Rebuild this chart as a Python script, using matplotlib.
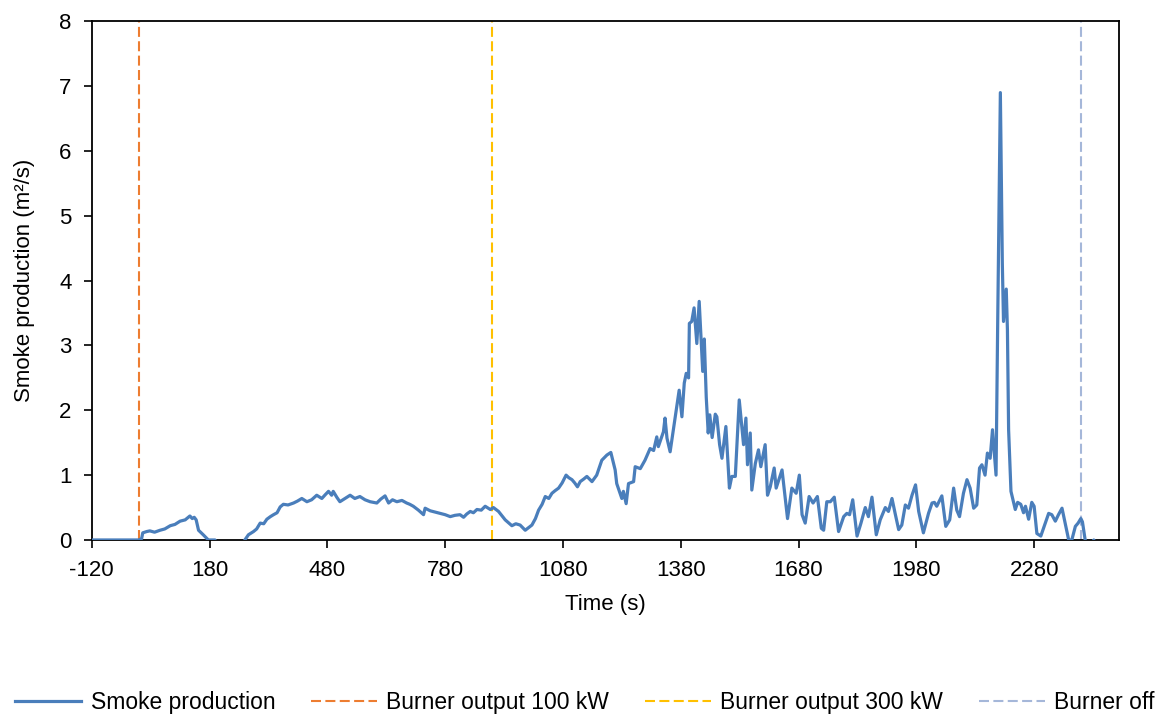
import numpy as np
import matplotlib
matplotlib.use("Agg")
import matplotlib.pyplot as plt

plt.rcParams['font.family'] = ['Liberation Sans', 'DejaVu Sans']
plt.rcParams['axes.unicode_minus'] = False

# smoke production trace (time s, m2/s)
time = [-120, 0, 7, 10, 20, 28, 40, 54, 66, 80, 92, 105, 118, 130, 136, 141, 146, 152, 164, 177, 194, 200,
        265, 270, 279, 292, 300, 309, 318, 326, 335, 343, 352, 360, 368, 380, 394, 404, 415, 428, 440, 453, 466, 475, 483,
        491, 495, 504, 512, 525, 538, 550, 563, 576, 589, 606, 616, 627, 636, 646, 657, 670, 682, 690, 699, 712, 725, 729, 742,
        755, 767, 780, 793, 805, 818, 827, 835, 844, 852, 861, 872, 882, 895, 903, 916, 933, 950, 960, 971, 984, 1001,
        1010, 1018, 1027, 1035, 1044, 1052, 1060, 1069, 1078, 1088, 1095, 1103, 1110, 1117, 1124, 1133, 1141, 1154, 1166, 1179, 1192,
        1202, 1213, 1217, 1230, 1234, 1241, 1247, 1260, 1264, 1277, 1289, 1302, 1311,
        1319, 1323, 1336, 1340, 1345, 1353, 1366, 1376, 1383, 1389, 1394, 1400, 1402,
        1408, 1414, 1421, 1427, 1436, 1440, 1445, 1450, 1454, 1460, 1468, 1472, 1479,
        1485, 1495, 1504, 1510, 1519, 1529, 1540, 1546, 1550, 1557, 1561, 1570, 1578,
        1584, 1595, 1601, 1608, 1618, 1623, 1629, 1638, 1652, 1663, 1674, 1682, 1689,
        1697, 1707, 1717, 1728, 1738, 1744, 1752, 1761, 1771, 1782, 1795, 1803, 1810,
        1818, 1829, 1839, 1850, 1858, 1867, 1878, 1888, 1901, 1909, 1918, 1926, 1935,
        1943, 1952, 1960, 1969, 1978, 1986, 1998, 2011, 2020, 2026, 2032, 2045, 2055,
        2065, 2075, 2083, 2090, 2100, 2109, 2117, 2126, 2134, 2141, 2147, 2155, 2161,
        2168, 2174, 2183, 2187, 2194, 2199, 2202, 2209, 2212, 2215, 2221, 2228, 2232,
        2238, 2246, 2253, 2258, 2266, 2274, 2280, 2287, 2297, 2308, 2317, 2325, 2334,
        2342, 2351, 2359, 2368, 2376, 2385, 2392, 2399, 2403, 2410, 2420, 2432, 2436,
        2440]
smoke = [0, 0, 0.02, 0.11, 0.13, 0.14, 0.12, 0.15, 0.17, 0.22, 0.24, 0.29, 0.31, 0.37, 0.33, 0.35, 0.31, 0.15, 0.08, 0.0, 0.0, -0.1,
         -0.1, 0.0, 0.08, 0.13, 0.17, 0.26, 0.25, 0.32, 0.36, 0.39, 0.42, 0.51, 0.55, 0.54, 0.57, 0.60, 0.64, 0.59, 0.62, 0.69, 0.64, 0.70, 0.75,
         0.69, 0.75, 0.66, 0.59, 0.64, 0.69, 0.64, 0.67, 0.62, 0.59, 0.57, 0.63, 0.68, 0.57, 0.62, 0.59, 0.61, 0.57, 0.55, 0.52, 0.46, 0.39, 0.49, 0.45,
         0.43, 0.41, 0.39, 0.36, 0.38, 0.39, 0.35, 0.40, 0.44, 0.42, 0.47, 0.46, 0.52, 0.47, 0.50, 0.44, 0.31, 0.22, 0.25, 0.23, 0.15, 0.23,
         0.33, 0.46, 0.55, 0.67, 0.64, 0.72, 0.76, 0.80, 0.88, 1.00, 0.96, 0.93, 0.88, 0.82, 0.90, 0.94, 0.98, 0.90, 1.00, 1.23, 1.31,
         1.35, 1.08, 0.87, 0.64, 0.75, 0.56, 0.87, 0.90, 1.13, 1.10, 1.23, 1.41, 1.38,
         1.59, 1.44, 1.67, 1.88, 1.57, 1.36, 1.90, 2.31, 1.90, 2.42, 2.57, 2.50, 3.34,
         3.37, 3.58, 3.03, 3.68, 2.60, 3.10, 2.20, 1.65, 1.93, 1.58, 1.94, 1.90, 1.47,
         1.26, 1.75, 0.80, 0.98, 0.98, 2.16, 1.47, 1.88, 1.16, 1.65, 0.77, 1.18, 1.39,
         1.13, 1.47, 0.69, 0.82, 1.11, 0.80, 0.91, 1.08, 0.33, 0.80, 0.72, 1.00, 0.39,
         0.26, 0.67, 0.57, 0.67, 0.18, 0.15, 0.59, 0.59, 0.66, 0.13, 0.36, 0.41, 0.39,
         0.62, 0.06, 0.26, 0.50, 0.36, 0.66, 0.08, 0.31, 0.50, 0.44, 0.64, 0.41, 0.16,
         0.23, 0.54, 0.49, 0.69, 0.85, 0.44, 0.11, 0.41, 0.57, 0.58, 0.52, 0.68, 0.21,
         0.31, 0.80, 0.46, 0.36, 0.72, 0.93, 0.80, 0.49, 0.54, 1.11, 1.16, 1.00, 1.34,
         1.26, 1.70, 1.00, 3.24, 6.90, 4.27, 3.37, 3.87, 3.24, 1.70, 0.75, 0.57, 0.47,
         0.58, 0.55, 0.42, 0.52, 0.32, 0.58, 0.52, 0.10, 0.06, 0.25, 0.41, 0.39, 0.29,
         0.39, 0.49, 0.26, 0.0, 0.0, 0.21, 0.26, 0.33, 0.28, 0.0, -0.1, 0.0, -0.05,
         -0.1]

burner_100 = 0
burner_300 = 900
burner_off = 2400

fig = plt.figure(figsize=(11.7, 7.15), dpi=100)
ax = fig.add_axes([0.0784, 0.2448, 0.8783, 0.7254])

blue = '#4a7ebb'
ax.plot(time, smoke, color=blue, lw=2.3, label='Smoke production', zorder=3)
ax.axvline(burner_100, color='#ED7D31', lw=1.5, dashes=(4.8, 2.1), label='Burner output 100 kW')
ax.axvline(burner_300, color='#FFC000', lw=1.5, dashes=(4.8, 2.1), label='Burner output 300 kW')
ax.axvline(burner_off, color='#A5B7D9', lw=1.5, dashes=(4.8, 2.1), label='Burner off')

ax.set_xlim(-120, 2497)
ax.set_ylim(0, 8)
ax.set_xticks(np.arange(-120, 2281, 300))
ax.set_yticks(np.arange(0, 9, 1))
ax.tick_params(labelsize=16, length=5.5, width=1.2, direction='out', pad=9)
for s in ax.spines.values():
    s.set_linewidth(1.3)
ax.set_xlabel('Time (s)', fontsize=16, labelpad=9)
ax.set_ylabel('Smoke production (m²/s)', fontsize=16, labelpad=17)

fig.legend(loc='center', bbox_to_anchor=(0.5, 0.017), ncol=4, frameon=False,
           fontsize=16.5, handlelength=2.9, handletextpad=0.4, columnspacing=1.55)

fig.savefig('out.png', dpi=100)
